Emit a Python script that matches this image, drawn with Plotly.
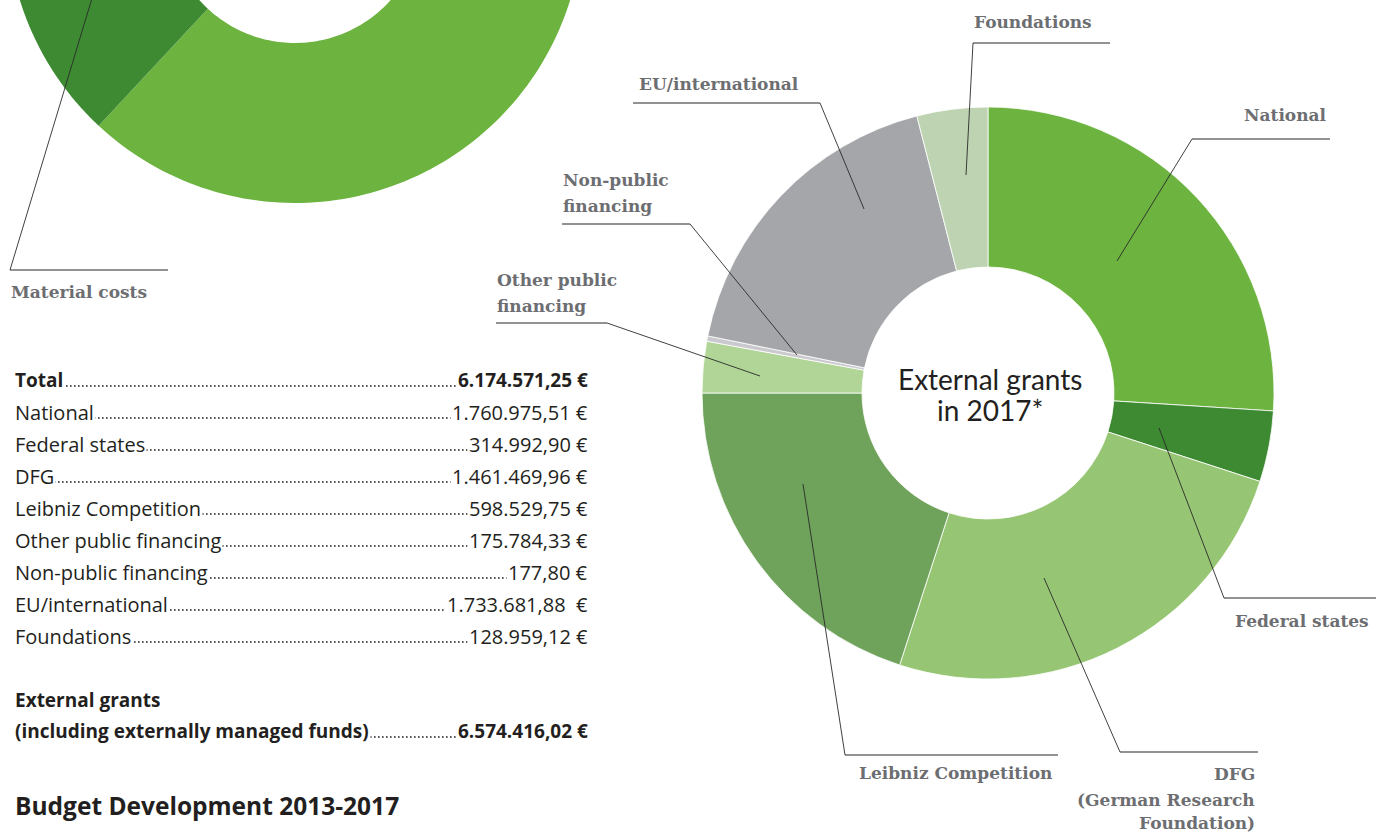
import numpy as np
import plotly.graph_objects as go

# ---------------- data ----------------
# Right donut: slice shares (%) read from the drawn angles
grant_labels = ["National", "Federal states", "DFG", "Leibniz Competition",
                "Other public financing", "Non-public financing",
                "EU/international", "Foundations"]
grant_shares = [26.0, 4.0, 25.0, 20.0, 2.9, 0.3, 17.8, 4.0]
grant_colors = ["#6db33f", "#3d8a32", "#96c673", "#6fa35c",
                "#b1d596", "#c9c9ce", "#a5a6aa", "#bdd3b1"]

# Left donut (only partially visible)
budget_labels = ["Personnel costs", "Material costs"]
budget_shares = [78.6, 21.4]
budget_colors = ["#6db33f", "#3d8a32"]
budget_start_deg = 300

# Table
table_labels = ["Total", "National", "Federal states", "DFG", "Leibniz Competition",
                "Other public financing", "Non-public financing", "EU/international",
                "Foundations"]
table_values = ["6.174.571,25 €", "1.760.975,51 €", "314.992,90 €", "1.461.469,96 €",
                "598.529,75 €", "175.784,33 €", "177,80 €", "1.733.681,88&nbsp;&nbsp;€",
                "128.959,12 €"]
ext_label_1 = "External grants"
ext_label_2 = "(including externally managed funds)"
ext_value = "6.574.416,02 €"
title_text = "Budget Development 2013-2017"

# ---------------- layout constants ----------------
W, H = 1376, 834
RC = (988, 393); R_OUT = 286; R_IN = 126
LC = (295, -85); L_OUT = 288; L_IN = 128

LABEL_FONT = dict(family="DejaVu Serif", size=17, color="#6d6e71")
TABLE_FONT = "Open Sans"
INK = "#231f20"

fig = go.Figure()

# Left partial donut drawn as polygons on a pixel-space axis
cum = budget_start_deg
for lab, sh, col in zip(budget_labels, budget_shares, budget_colors):
    a0, a1 = cum, cum + sh * 3.6
    cum = a1
    t = np.radians(np.linspace(a0, a1, 200))
    xo = LC[0] + L_OUT * np.sin(t); yo = LC[1] - L_OUT * np.cos(t)
    xi = LC[0] + L_IN * np.sin(t[::-1]); yi = LC[1] - L_IN * np.cos(t[::-1])
    fig.add_trace(go.Scatter(x=np.concatenate([xo, xi]), y=np.concatenate([yo, yi]),
                             fill="toself", fillcolor=col, mode="none", name=lab,
                             hoverinfo="skip", showlegend=False))

# Right donut
fig.add_trace(go.Pie(
    labels=grant_labels, values=grant_shares, sort=False, direction="clockwise",
    rotation=0, hole=R_IN / R_OUT, textinfo="none", hoverinfo="label+percent",
    marker=dict(colors=grant_colors, line=dict(color="white", width=0.8)),
    domain=dict(x=[(RC[0] - R_OUT) / W, (RC[0] + R_OUT) / W],
                y=[(H - RC[1] - R_OUT) / H, (H - RC[1] + R_OUT) / H]),
    showlegend=False))

shapes = []
def seg(pts, color, width):
    path = "M " + " L ".join(f"{x},{y}" for x, y in pts)
    shapes.append(dict(type="path", path=path, xref="x", yref="y",
                       line=dict(color=color, width=width), layer="above"))

DIAG = "#2a2a2a"; UL = "#6d6e71"
leaders = [
    ([(10, 270), (168, 270)], [(10, 270), (96, -15)]),
    ([(973, 43), (1110, 43)], [(973, 43), (966, 175)]),
    ([(633, 103), (820, 103)], [(820, 103), (864, 209)]),
    ([(1192, 139), (1330, 139)], [(1192, 139), (1117, 261)]),
    ([(562, 224), (690, 224)], [(690, 224), (797, 355)]),
    ([(496, 323), (607, 323)], [(607, 323), (760, 376)]),
    ([(1224, 598), (1376, 598)], [(1159, 428), (1224, 598)]),
    ([(1120, 752), (1258, 752)], [(1044, 578), (1120, 752)]),
    ([(845, 755), (1058, 755)], [(803, 484), (845, 755)]),
]
for ul, dg in leaders:
    seg(ul, UL, 1.4)
    seg(dg, DIAG, 0.9)

ann = []
def lab(text, x, y, xanchor="left"):
    ann.append(dict(text=f"<b>{text}</b>", x=x, y=y, xref="x", yref="y",
                    xanchor=xanchor, yanchor="middle", showarrow=False, font=LABEL_FONT))

lab("Material costs", 9, 292)
lab("Foundations", 972, 22)
lab("EU/international", 637, 84)
lab("National", 1329, 115, "right")
lab("Non-public", 561, 180)
lab("financing", 561, 206)
lab("Other public", 495, 280)
lab("financing", 495, 306)
lab("Federal states", 1371, 621, "right")
lab("DFG", 1257, 774, "right")
lab("(German Research", 1257, 800, "right")
lab("Foundation)", 1257, 823, "right")
lab("Leibniz Competition", 857, 773)

# centre text
for txt, y in [("External grants", 379), ("in 2017*", 410)]:
    ann.append(dict(text=txt, x=RC[0] + 2, y=y, xref="x", yref="y", showarrow=False,
                    xanchor="center", yanchor="middle",
                    font=dict(family="Lato", size=28, color=INK)))

# table with dotted leaders
def row(label, value, y, bold=False):
    shapes.append(dict(type="line", xref="x", yref="y", x0=18, x1=585, y0=y + 6, y1=y + 6,
                       line=dict(color=INK, width=1.6, dash="1.6px,2.4px"), layer="above"))
    b0, b1 = ("<b>", "</b>") if bold else ("", "")
    size = 19 if bold else 20
    ann.append(dict(text=f"{b0}{label}{b1}", x=13, y=y, xref="x", yref="y", showarrow=False,
                    xanchor="left", yanchor="middle", bgcolor="white", borderpad=1,
                    font=dict(family=TABLE_FONT, size=size, color=INK)))
    ann.append(dict(text=f"{b0}{value}{b1}", x=590, y=y, xref="x", yref="y", showarrow=False,
                    xanchor="right", yanchor="middle", bgcolor="white", borderpad=1,
                    font=dict(family=TABLE_FONT, size=size, color=INK)))

for i, (l, v) in enumerate(zip(table_labels, table_values)):
    row(l, v, 380 + 32 * i, bold=(i == 0))

ann.append(dict(text=f"<b>{ext_label_1}</b>", x=13, y=700, xref="x", yref="y", showarrow=False,
                xanchor="left", yanchor="middle",
                font=dict(family=TABLE_FONT, size=19, color=INK)))
row(ext_label_2, ext_value, 731, bold=True)

ann.append(dict(text=f"<b>{title_text}</b>", x=13, y=805, xref="x", yref="y", showarrow=False,
                xanchor="left", yanchor="middle",
                font=dict(family=TABLE_FONT, size=24.5, color=INK)))

fig.update_layout(
    width=W, height=H, margin=dict(l=0, r=0, t=0, b=0),
    paper_bgcolor="white", plot_bgcolor="white",
    xaxis=dict(range=[0, W], visible=False, fixedrange=True),
    yaxis=dict(range=[H, 0], visible=False, fixedrange=True),
    shapes=shapes, annotations=ann,
)
fig.write_html("out.html", config={"displayModeBar": False},
               post_script="document.body.style.margin='0';document.body.style.overflow='hidden';")
